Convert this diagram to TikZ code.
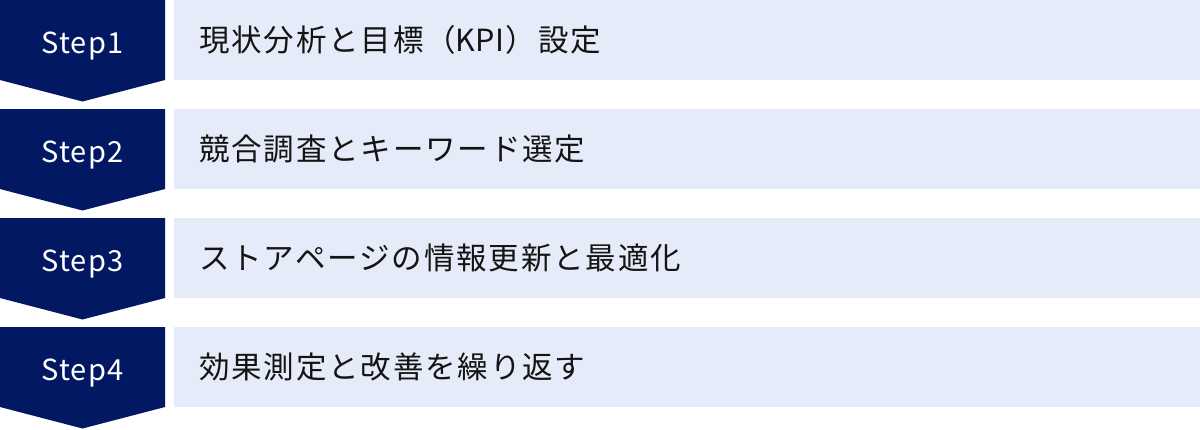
\documentclass[tikz,border=0pt]{standalone}
\usepackage{fontspec}
\newfontfamily\jpfont[LetterSpace=6]{Noto Sans CJK JP}
\newfontfamily\latinfont{Noto Sans CJK JP}
\newfontfamily\stepfont[LetterSpace=4]{Noto Sans CJK JP}
\definecolor{navy}{RGB}{3,24,98}
\definecolor{lav}{RGB}{230,235,249}
\definecolor{ink}{RGB}{20,20,20}
\tikzset{
  stepshape/.style={fill=navy,draw=none},
  barshape/.style={fill=lav,draw=none},
  steplabel/.style={anchor=base,inner sep=0pt,text=white,font=\stepfont\fontsize{29}{34}\selectfont},
  barlabel/.style={anchor=base west,inner sep=0pt,text=ink,font=\jpfont\fontsize{30.5}{36}\selectfont}
}
\begin{document}
\begin{tikzpicture}[x=1pt,y=-1pt]
\fill[white] (0,0) rectangle (1200,429);
\useasboundingbox (0,0) rectangle (1200,429);
\foreach \k/\txt in {0/{現状分析と目標（{\latinfont KPI}\hspace{1.8pt}）設定},1/{競合調査とキーワード選定},2/{ストアページの情報更新と最適化},3/{効果測定と改善を繰り返す}}{
  \pgfmathsetmacro{\t}{109*\k}
  \fill[barshape] (174,\t) rectangle (1200,\t+80);
  \fill[stepshape] (0,\t) -- (165,\t) -- (165,\t+80) -- (82.5,\t+101.5) -- (0,\t+80) -- cycle;
  \pgfmathtruncatemacro{\n}{\k+1}
  \node[steplabel] (step\n) at (82.5,\t+53) {Step\n};
  \node[barlabel] (bar\n) at (199,\t+51.5) {\txt};
}
\end{tikzpicture}
\end{document}
